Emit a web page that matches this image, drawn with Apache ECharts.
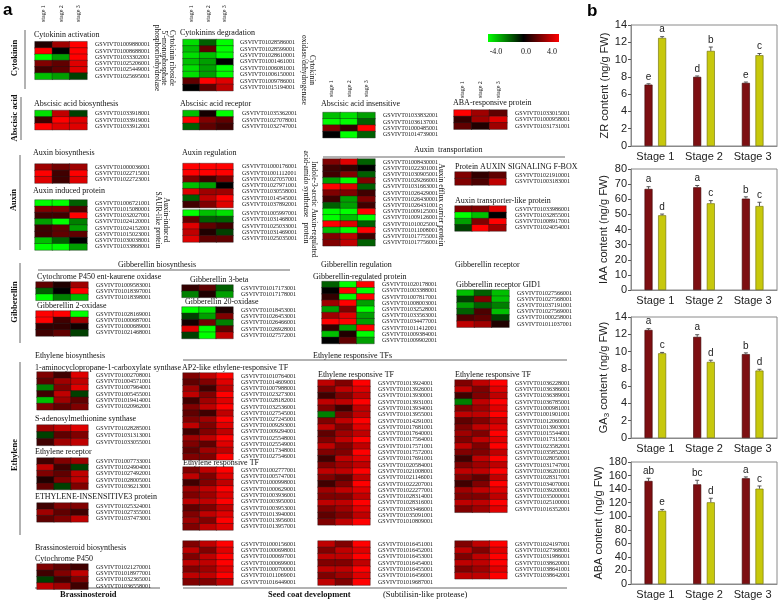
<!DOCTYPE html>
<html><head><meta charset="utf-8">
<script src="https://cdn.jsdelivr.net/npm/echarts@6/dist/echarts.min.js"></script>
<style>html,body{margin:0;padding:0;background:#fff}#c{width:778px;height:602px}</style>
</head><body><div id="c"></div>
<script>
// ---------- Panel a data ----------
const stages = ['stage 1', 'stage 2', 'stage 3'];

const ckActGenes = ['GSVIVT01009880001','GSVIVT01008688001','GSVIVT01033302001','GSVIVT01025206001','GSVIVT01025449001','GSVIVT01025695001'];
const ckActVals = [[0.5,2.5,4],[4,0,4],[-4,-2.5,4],[2,1.5,3.5],[1,1.5,3.5],[-3,-2.5,-1]];

const ckDegGenes = ['GSVIVT01028586001','GSVIVT01028599001','GSVIVT01028610001','GSVIVT01001461001','GSVIVT01006081001','GSVIVT01006150001','GSVIVT01009786001','GSVIVT01015194001'];
const ckDegVals = [[-3.5,-1.5,-4],[-3,1.5,-4],[-3.5,-3,-4],[-3,-2.5,0],[-3.5,-2.5,-4],[-3.5,-2.5,-4],[1.5,4,3.5],[0,1.5,3]];

const abaBioGenes = ['GSVIVT01033918001','GSVIVT01033919001','GSVIVT01033912001'];
const abaBioVals = [[-3.5,3,-1],[1,4,3.5],[4,3.5,3.5]];

const abaRecGenes = ['GSVIVT01035362001','GSVIVT01027078001','GSVIVT01032747001'];
const abaRecVals = [[-3,0.3,-4],[4,2,1.5],[-1.5,1.5,1]];

const abaInsGenes = ['GSVIVT01033832001','GSVIVT01036137001','GSVIVT01000485001','GSVIVT01014739001'];
const abaInsVals = [[-3,-3.5,-2.5],[-4,-4,-1.5],[2,0.8,4],[0,-4,-1.5]];

const abaRespGenes = ['GSVIVT01033015001','GSVIVT01000958001','GSVIVT01031731001'];
const abaRespVals = [[4,2.5,1.5],[0.8,2.5,3.5],[1.5,0.5,2.5]];

const auxBioGenes = ['GSVIVT01000036001','GSVIVT01022715001','GSVIVT01022723001'];
const auxBioVals = [[2.5,1.8,2.5],[4,1,4],[3.5,1,3.5]];

const auxIndGenes = ['GSVIVT01006721001','GSVIVT01015080001','GSVIVT01032027001','GSVIVT01024120001','GSVIVT01024152001','GSVIVT01015023001','GSVIVT01030038001','GSVIVT01033868001'];
const auxIndVals = [[-4,-4,-1.5],[2,2,1.2],[1,1,4],[-2.5,-4,-2],[1,1.5,-2.5],[1,1.5,1.5],[-3,-1.5,0],[-4,-4,-2.5]];

const auxRegAGenes = ['GSVIVT01000176001','GSVIVT01001112001','GSVIVT01027057001','GSVIVT01027971001','GSVIVT01030558001','GSVIVT01014545001','GSVIVT01037892001'];
const auxRegAVals = [[4,4,4],[4,4,4],[2,1,2],[-3,-2.5,0],[3.5,2.5,2.5],[-1.5,3,4],[1,2,3.5]];

const auxRegBGenes = ['GSVIVT01005997001','GSVIVT01031468001','GSVIVT01025033001','GSVIVT01031469001','GSVIVT01025035001'];
const auxRegBVals = [[-4,-3,-3.5],[1.5,-1.5,-1.5],[3.5,1.5,1],[3,0.5,-1],[3.5,1.5,1.5]];

const auxTrGenes = ['GSVIVT01008430001','GSVIVT01022301001','GSVIVT01030905001','GSVIVT01029266001','GSVIVT01031663001','GSVIVT01026429001','GSVIVT01026430001','GSVIVT01026431001','GSVIVT01009125001','GSVIVT01009126001','GSVIVT01010025001','GSVIVT01011008001','GSVIVT01017755001','GSVIVT01017756001'];
const auxTrVals = [[2,3.5,-1.5],[1,0.8,0],[1,2,-1.5],[-2.5,-4,2],[4,3.5,-1.5],[2,2,1],[1,-2.5,2],[-1.5,-2.5,1],[-4,-4,4],[-4,-3,-4],[4,3.5,-1.5],[-3,-4,4],[2,3,1],[2,3,-1.5]];

const auxFbGenes = ['GSVIVT01021910001','GSVIVT01003183001'];
const auxFbVals = [[2,0.8,1.5],[2,1.2,3]];

const auxTlGenes = ['GSVIVT01033986001','GSVIVT01032855001','GSVIVT01008917001','GSVIVT01024054001'];
const auxTlVals = [[2,2,3.5],[-4,-3,0],[-2.5,2,4],[-1,4,2.5]];

const gaP450Genes = ['GSVIVT01009583001','GSVIVT01018397001','GSVIVT01018398001'];
const gaP450Vals = [[1.5,0.5,2.5],[-1.5,0,4],[-4,-2,-3]];

const ga2oxGenes = ['GSVIVT01028169001','GSVIVT01000687001','GSVIVT01000689001','GSVIVT01021468001'];
const ga2oxVals = [[4,4,-4],[4,1,2.5],[0.8,0.8,0.3],[1,1.5,-1]];

const ga3bGenes = ['GSVIVT01017173001','GSVIVT01017178001'];
const ga3bVals = [[0.8,1.5,-1.5],[-2,0.5,-2.5]];

const ga20oxGenes = ['GSVIVT01018453001','GSVIVT01026453001','GSVIVT01026466001','GSVIVT01026928001','GSVIVT01027572001'];
const ga20oxVals = [[-4,-3.5,0.5],[-1,-2.5,2],[0.3,1.8,-2],[3.5,-4,1.5],[-1,-4,3]];

const gaRegGenes = ['GSVIVT01020178001','GSVIVT01003388001','GSVIVT01007817001','GSVIVT01008003001','GSVIVT01032528001','GSVIVT01033563001','GSVIVT01034477001','GSVIVT01011412001','GSVIVT01009384001','GSVIVT01009902001'];
const gaRegVals = [[-1.5,-4,4],[0,4,-4],[0.8,-4,4],[2.5,4,-2.5],[-2.5,2,-4],[2.5,3.5,-2.5],[4,4,-2.5],[0.8,-2.5,4],[-3,0.5,-4],[0,1.5,-2.5]];

const gaRecGenes = ['GSVIVT01027566001','GSVIVT01027568001','GSVIVT01037191001','GSVIVT01027569001','GSVIVT01000258001','GSVIVT01011037001'];
const gaRecVals = [[-3,-1.5,-3],[-1,2,-3],[-2.5,-1.5,-2],[-1.5,1.2,-3],[1.2,1.5,-1],[3,2.5,0.5]];

const accsGenes = ['GSVIVT01002708001','GSVIVT01004571001','GSVIVT01007964001','GSVIVT01005455001','GSVIVT01019414001','GSVIVT01020962001'];
const accsVals = [[2,1,3.5],[1.5,2.5,3],[-2,2,3.5],[1,3,-1],[-3,2.5,1.5],[2,1.5,2]];

const samsGenes = ['GSVIVT01028285001','GSVIVT01031313001','GSVIVT01033055001'];
const samsVals = [[2.5,3,3.5],[-1,1.5,2],[1,2.5,3]];

const etrGenes = ['GSVIVT01007733001','GSVIVT01024904001','GSVIVT01027492001','GSVIVT01028005001','GSVIVT01036213001'];
const etrVals = [[1,2,2.5],[3,1,-1],[2,1.5,3],[0.5,2,3],[1.5,-1,2]];

const ein3Genes = ['GSVIVT01025324001','GSVIVT01027355001','GSVIVT01037473001'];
const ein3Vals = [[1,2,2],[2.5,1.5,1],[1.5,2,3]];

const brGenes = ['GSVIVT01021270001','GSVIVT01018977001','GSVIVT01032365001','GSVIVT01036558001'];
const brVals = [[2,1.5,1],[1,2,3],[-1,1,2],[3,2.5,1]];

const ap2Genes = ['GSVIVT01010764001','GSVIVT01014609001','GSVIVT01007988001','GSVIVT01023273001','GSVIVT01028182001','GSVIVT01032536001','GSVIVT01027545001','GSVIVT01027245001','GSVIVT01009293001','GSVIVT01009294001','GSVIVT01025548001','GSVIVT01025549001','GSVIVT01017348001','GSVIVT01027546001'];
const ap2Vals = [[2,3,4],[1.5,2,3.5],[2.5,1,3],[3,2,4],[1,2.5,3.5],[2,3,4],[1.5,1,3],[2,2.5,4],[3,2,3.5],[1,2,3],[2.5,3,4],[2,1.5,3.5],[1.5,2.5,3],[2,2,4]];

const erfAGenes = ['GSVIVT01002777001','GSVIVT01005747001','GSVIVT01000998001','GSVIVT01000629001','GSVIVT01003936001','GSVIVT01003950001','GSVIVT01003953001','GSVIVT01013940001','GSVIVT01013956001','GSVIVT01013957001'];
const erfAVals = [[2,3,4],[3,2,3.5],[1,2,3],[2.5,3,4],[2,2.5,3.5],[3,3,4],[1.5,2,3],[2,3,3.5],[2.5,2,4],[2,3,3.5]];

const erfBGenes = ['GSVIVT01013924001','GSVIVT01013926001','GSVIVT01013930001','GSVIVT01013931001','GSVIVT01013934001','GSVIVT01013955001','GSVIVT01014291001','GSVIVT01017681001','GSVIVT01017640001','GSVIVT01017564001','GSVIVT01017571001','GSVIVT01017572001','GSVIVT01017691001','GSVIVT01020584001','GSVIVT01021008001','GSVIVT01021146001','GSVIVT01022207001','GSVIVT01022277001','GSVIVT01028314001','GSVIVT01028316001','GSVIVT01033466001','GSVIVT01035091001','GSVIVT01010809001'];
const erfBVals = [[3,2,4],[2,3,3.5],[1,2,3],[3,3,4],[2,1,3],[-2,2,3],[2,3,4],[3,2,3.5],[1.5,2.5,3],[2,3,4],[3,2,3],[2,2,4],[1,3,3.5],[2,2.5,3],[3,3,4],[2,1.5,3],[1,2,4],[2.5,3,3.5],[2,2,3],[3,3,4],[2,2.5,3.5],[1.5,2,3],[2,3,4]];

const erfCGenes = ['GSVIVT01036228001','GSVIVT01036386001','GSVIVT01036389001','GSVIVT01036785001','GSVIVT01000981001','GSVIVT01001901001','GSVIVT01012060001','GSVIVT01013903001','GSVIVT01015544001','GSVIVT01017315001','GSVIVT01023582001','GSVIVT01035852001','GSVIVT01028050001','GSVIVT01031747001','GSVIVT01036201001','GSVIVT01028317001','GSVIVT01034070001','GSVIVT01039200001','GSVIVT01035000001','GSVIVT01025100001','GSVIVT01016352001'];
const erfCVals = [[2,3,4],[3,2,3.5],[1,2,3],[-2,3,4],[2,2.5,3.5],[3,3,4],[1.5,2,3],[2,3,3.5],[2.5,2,4],[2,3,3.5],[3,2,4],[2,2,3],[1,3,4],[2,2.5,3],[3,3,4],[2,1.5,3],[1,2,4],[2.5,3,3.5],[2,2,3],[3,3,4],[2,2.5,3.5]];

const scAGenes = ['GSVIVT01000156001','GSVIVT01000698001','GSVIVT01000697001','GSVIVT01000699001','GSVIVT01000700001','GSVIVT01011069001','GSVIVT01016449001'];
const scAVals = [[2,3,4],[3,2,3.5],[2,3,4],[3,3,4],[2,2.5,3.5],[3,3,4],[2,2,3]];

const scBGenes = ['GSVIVT01016451001','GSVIVT01016452001','GSVIVT01016453001','GSVIVT01016454001','GSVIVT01016455001','GSVIVT01016456001','GSVIVT01019687001'];
const scBVals = [[3,2,4],[2,3,3.5],[3,3,4],[2,2,3],[3,3,4],[2,2.5,3.5],[3,2,4]];

const scCGenes = ['GSVIVT01024197001','GSVIVT01027368001','GSVIVT01031986001','GSVIVT01038620001','GSVIVT01038641001','GSVIVT01038642001'];
const scCVals = [[2,3,4],[3,2,3.5],[2,3,4],[3,3,4],[2,2.5,3.5],[3,3,4]];

// ---------- Panel b data ----------
const stageLabels = ['Stage 1', 'Stage 2', 'Stage 3'];
const zrA = [7.1, 8.0, 7.3],   zrB = [12.5, 11.0, 10.5];
const zrAErr = [0.1, 0.1, 0.1], zrBErr = [0.15, 0.45, 0.2];
const zrALet = ['e','d','e'],  zrBLet = ['a','b','c'];
const iaaA = [66.8, 67.9, 60.4], iaaB = [49.4, 57.3, 55.5];
const iaaAErr = [1.5, 1.2, 1.2], iaaBErr = [0.8, 1.8, 2.5];
const iaaALet = ['a','a','b'], iaaBLet = ['d','c','c'];
const gaA = [12.5, 11.7, 9.7], gaB = [9.8, 8.8, 7.8];
const gaAErr = [0.15, 0.25, 0.15], gaBErr = [0.1, 0.2, 0.15];
const gaALet = ['a','a','b'], gaBLet = ['c','d','d'];
const abaA = [152, 147, 156], abaB = [108, 120.5, 140.6];
const abaAErr = [4, 6, 2], abaBErr = [2, 6, 4];
const abaALet = ['ab','bc','a'], abaBLet = ['e','d','c'];

// ---------- layout ----------
const blocks = [
  {g: ckActGenes, v: ckActVals, x:35, y:41.7, w:52, rh:6.27, m:8},
  {g: ckDegGenes, v: ckDegVals, x:183, y:39.5, w:50, rh:6.4, m:7},
  {g: abaBioGenes, v: abaBioVals, x:35, y:110.5, w:52, rh:6.4, m:8},
  {g: abaRecGenes, v: abaRecVals, x:183, y:110.5, w:50, rh:6.4, m:9},
  {g: abaInsGenes, v: abaInsVals, x:323, y:112.5, w:52, rh:6.3, m:8},
  {g: abaRespGenes, v: abaRespVals, x:454, y:110, w:53, rh:6.4, m:8},
  {g: auxBioGenes, v: auxBioVals, x:35, y:164, w:52, rh:6.35, m:8},
  {g: auxIndGenes, v: auxIndVals, x:35, y:200, w:52, rh:6.25, m:8},
  {g: auxRegAGenes, v: auxRegAVals, x:183, y:163.5, w:50, rh:6.3, m:9},
  {g: auxRegBGenes, v: auxRegBVals, x:183, y:210, w:50, rh:6.4, m:9},
  {g: auxTrGenes, v: auxTrVals, x:323, y:159, w:52, rh:6.2, m:8},
  {g: auxFbGenes, v: auxFbVals, x:455, y:172, w:51, rh:6.5, m:9},
  {g: auxTlGenes, v: auxTlVals, x:455, y:206, w:51, rh:6.25, m:9},
  {g: gaP450Genes, v: gaP450Vals, x:36, y:282, w:52, rh:6.1, m:8},
  {g: ga2oxGenes, v: ga2oxVals, x:36, y:311, w:52, rh:6.25, m:8},
  {g: ga3bGenes, v: ga3bVals, x:182, y:285, w:51, rh:6.2, m:8},
  {g: ga20oxGenes, v: ga20oxVals, x:182, y:307, w:51, rh:6.3, m:8},
  {g: gaRegGenes, v: gaRegVals, x:322, y:281.5, w:52, rh:6.2, m:8},
  {g: gaRecGenes, v: gaRecVals, x:457, y:290, w:52, rh:6.2, m:8},
  {g: accsGenes, v: accsVals, x:37, y:372, w:51, rh:6.3, m:8},
  {g: samsGenes, v: samsVals, x:37, y:425, w:51, rh:6.8, m:8},
  {g: etrGenes, v: etrVals, x:37, y:458, w:51, rh:6.3, m:8},
  {g: ein3Genes, v: ein3Vals, x:37, y:503, w:51, rh:6.3, m:8},
  {g: brGenes, v: brVals, x:37, y:564, w:51, rh:6.3, m:8},
  {g: ap2Genes, v: ap2Vals, x:183, y:373, w:50, rh:6.2, m:8},
  {g: erfAGenes, v: erfAVals, x:183, y:467, w:50, rh:6.3, m:8},
  {g: erfBGenes, v: erfBVals, x:318, y:380, w:52, rh:6.3, m:8},
  {g: erfCGenes, v: erfCVals, x:455, y:380, w:52, rh:6.3, m:8},
  {g: scAGenes, v: scAVals, x:183, y:541, w:50, rh:6.3, m:8},
  {g: scBGenes, v: scBVals, x:318, y:541, w:52, rh:6.3, m:8},
  {g: scCGenes, v: scCVals, x:455, y:541, w:52, rh:6.3, m:8}
];

const SERIF = 'Liberation Serif';
const grids = [], xAxes = [], yAxes = [], series = [];
const heatIdx = [];
blocks.forEach((b, i) => {
  grids.push({left: b.x, top: b.y, width: b.w, height: b.g.length * b.rh});
  xAxes.push({type: 'category', data: stages, gridIndex: i, show: false});
  yAxes.push({type: 'category', data: b.g, gridIndex: i, inverse: true, position: 'right',
    axisLine: {show: false}, axisTick: {show: false}, splitLine: {show: false},
    axisLabel: {interval: 0, fontSize: 6, fontFamily: SERIF, color: '#111', margin: b.m}});
  const d = [];
  b.v.forEach((row, r) => row.forEach((val, c) => d.push([c, r, val])));
  heatIdx.push(series.length);
  series.push({type: 'heatmap', xAxisIndex: i, yAxisIndex: i, data: d,
    itemStyle: {borderColor: '#1a1a1a', borderWidth: 0.4}, emphasis: {disabled: true}});
});

// ---------- panel b ----------
const SANS = 'Liberation Sans';
const barPanels = [
  {a: zrA, b: zrB, ae: zrAErr, be: zrBErr, al: zrALet, bl: zrBLet, top: 25, h: 121, max: 14, itv: 2, gap: 15, name: 'ZR content (ng/g FW)'},
  {a: iaaA, b: iaaB, ae: iaaAErr, be: iaaBErr, al: iaaALet, bl: iaaBLet, top: 169, h: 121, max: 80, itv: 10, gap: 22, name: 'IAA content (ng/g FW)'},
  {a: gaA, b: gaB, ae: gaAErr, be: gaBErr, al: gaALet, bl: gaBLet, top: 317, h: 121, max: 14, itv: 2, gap: 15, name: 'GA{s|3} content (ng/g FW)'},
  {a: abaA, b: abaB, ae: abaAErr, be: abaBErr, al: abaALet, bl: abaBLet, top: 462, h: 122, max: 180, itv: 20, gap: 24, name: 'ABA content (ng/g FW)'}
];
const BW = 8, GAP = 0.7;
function errRender(off, letters) {
  return function (params, api) {
    const ci = api.value(0), v = api.value(1), e = api.value(2);
    const p0 = api.coord([ci, v]);
    const p1 = api.coord([ci, v + e]);
    const x = p0[0] + off;
    return {type: 'group', children: [
      {type: 'line', shape: {x1: x, y1: p0[1], x2: x, y2: p1[1]}, style: {stroke: '#555', lineWidth: 1}},
      {type: 'line', shape: {x1: x - 2, y1: p1[1], x2: x + 2, y2: p1[1]}, style: {stroke: '#555', lineWidth: 1}},
      {type: 'text', x: x, y: p1[1] - 2, style: {text: letters[params.dataIndex], fill: '#222', font: '10px "Liberation Sans"', align: 'center', verticalAlign: 'bottom', textAlign: 'center', textVerticalAlign: 'bottom'}}
    ]};
  };
}
barPanels.forEach((p, k) => {
  const gi = grids.length;
  grids.push({left: 631, top: p.top, width: 146, height: p.h, show: true, borderColor: '#8a8a8a', borderWidth: 1, backgroundColor: 'transparent'});
  xAxes.push({type: 'category', data: stageLabels, gridIndex: gi, axisTick: {show: false},
    axisLine: {lineStyle: {color: '#8a8a8a'}},
    axisLabel: {interval: 0, fontSize: 11, fontFamily: SANS, color: '#222', margin: 5}});
  yAxes.push({type: 'value', gridIndex: gi, min: 0, max: p.max, interval: p.itv,
    splitLine: {show: false},
    axisLine: {show: true, lineStyle: {color: '#8a8a8a'}},
    axisTick: {show: true, length: 3, lineStyle: {color: '#555'}},
    axisLabel: {fontSize: 11, fontFamily: SANS, color: '#222', margin: 4},
    name: p.name, nameLocation: 'middle', nameGap: p.gap, nameRotate: 90,
    nameTextStyle: {fontSize: 11, fontFamily: SANS, color: '#222', rich: {s: {fontSize: 8, fontFamily: SANS, color: '#222', verticalAlign: 'bottom', padding: [6, 0, 0, 0]}}}});
  const off = (BW + BW * GAP) / 2;
  series.push({type: 'bar', name: 'Group 1', xAxisIndex: gi, yAxisIndex: gi, data: p.a, barWidth: BW, barGap: (GAP * 100) + '%',
    itemStyle: {color: '#7d0f12', borderColor: '#3a0000', borderWidth: 0.6}});
  series.push({type: 'bar', name: 'Group 2', xAxisIndex: gi, yAxisIndex: gi, data: p.b, barWidth: BW, barGap: (GAP * 100) + '%',
    itemStyle: {color: '#c7c80c', borderColor: '#6a6a00', borderWidth: 0.6}});
  series.push({type: 'custom', xAxisIndex: gi, yAxisIndex: gi, renderItem: errRender(-off, p.al),
    data: p.a.map((v, i) => [i, v, p.ae[i]]), z: 5});
  series.push({type: 'custom', xAxisIndex: gi, yAxisIndex: gi, renderItem: errRender(off, p.bl),
    data: p.b.map((v, i) => [i, v, p.be[i]]), z: 5});
});

// ---------- graphic texts ----------
const G = [];
function txt(t, x, y, size, opt) {
  opt = opt || {};
  const font = (opt.bold ? 'bold ' : '') + size + 'px "' + (opt.family || SERIF) + '"';
  G.push({type: 'text', x: x, y: y, rotation: opt.rot || 0, silent: true,
    style: {text: t, font: font, fill: opt.color || '#111', align: opt.align || 'left', verticalAlign: opt.va || 'middle',
      textAlign: opt.align || 'left', textVerticalAlign: opt.va || 'middle', lineHeight: opt.lh || size + 1}});
}
function line(x1, y1, x2, y2, c) {
  G.push({type: 'line', silent: true, shape: {x1: x1, y1: y1, x2: x2, y2: y2}, style: {stroke: c || '#666', lineWidth: 1}});
}
txt('a', 3, 10, 17, {bold: true, family: SANS, color: '#000'});
txt('b', 587, 11, 17, {bold: true, family: SANS, color: '#000'});

// stage headers (rotated)
[[35, 52, 22], [183, 50, 22], [323, 52, 97], [454, 53, 98]].forEach(h => {
  stages.forEach((s, c) => txt(s, h[0] + h[1] / 6 * (2 * c + 1), h[2], 6, {rot: Math.PI / 2}));
});

// block titles
const titles = [
  ['Cytokinin activation', 34, 34.5], ['Cytokinins degradation', 180, 33],
  ['Abscisic acid biosynthesis', 34, 104], ['Abscisic acid receptor', 180, 104],
  ['Abscisic acid insensitive', 321, 104], ['ABA-responsive protein', 453, 103],
  ['Auxin biosynthesis', 33, 153], ['Auxin induced protein', 33, 191], ['Auxin regulation', 182, 153],
  ['Auxin  transportation', 414, 150], ['Protein AUXIN SIGNALING F-BOX', 455, 167],
  ['Auxin transporter-like protein', 455, 201],
  ['Gibberellin biosynthesis', 118, 265], ['Cytochrome P450 ent-kaurene oxidase', 37, 277],
  ['Gibberellin 2-oxidase', 37, 306], ['Gibberellin 3-beta', 190, 280], ['Gibberellin 20-oxidase', 185, 302],
  ['Gibberellin regulation', 321, 265], ['Gibberellin-regulated protein', 313, 277],
  ['Gibberellin receptor', 455, 265], ['Gibberellin receptor GID1', 456, 285],
  ['Ethylene biosynthesis', 35, 356], ['Ethylene responsive TFs', 313, 356],
  ['1-aminocyclopropane-1-carboxylate synthase', 35, 368], ['AP2-like ethylene-responsive TF', 182, 368],
  ['S-adenosylmethionine synthase', 35, 419], ['Ethylene receptor', 35, 452],
  ['ETHYLENE-INSENSITIVE3 protein', 35, 497], ['Ethylene responsive TF', 183, 463],
  ['Ethylene responsive TF', 318, 375], ['Ethylene responsive TF', 455, 375],
  ['Brassinosteroid biosynthesis', 35, 548], ['Cytochrome P450', 35, 559]
];
titles.forEach(t => txt(t[0], t[1], t[2], 8));

// rotated side labels
[
  ['Cytokinin riboside\n5\'-monophosphate\nphosphoribohydrolase', 164, 58],
  ['Cytokinin\noxidase/dehydrogenase', 308, 70],
  ['Auxin-induced\nSAUR-like protein', 162, 220],
  ['Indole-3-acetic\nacid-amido synthetase', 310, 184],
  ['Auxin-regulated\nprotein', 310, 233],
  ['Auxin efflux carrier protein', 441, 205]
].forEach(t => txt(t[0], t[1], t[2], 7.5, {rot: -Math.PI / 2, align: 'center', lh: 7.5}));

// category labels
[['Cytokinin', 15, 58], ['Abscisic acid', 15, 118], ['Auxin', 14, 200], ['Gibberellin', 15, 302], ['Ethylene', 15, 455]]
  .forEach(t => txt(t[0], t[1], t[2], 8.5, {rot: Math.PI / 2, align: 'center', bold: true}));
line(25, 30, 25, 89); line(21, 97, 21, 140); line(20, 155, 20, 250); line(20, 263, 20, 343); line(20, 362, 20, 535);

// section lines
line(323, 157, 565, 157);
line(38, 270, 290, 270);
line(183, 360, 567, 360);
line(35, 588, 160, 588);
line(183, 588, 567, 588);

txt('Brassinosteroid', 60, 595, 8.5, {bold: true});
txt('Seed coat development', 268, 595, 8.5, {bold: true});
txt('(Subtilisin-like protease)', 383, 595, 8.5);

// colour bar
G.push({type: 'rect', silent: true, shape: {x: 488, y: 34, width: 71, height: 8},
  style: {fill: {type: 'linear', x: 0, y: 0, x2: 1, y2: 0, colorStops: [
    {offset: 0, color: '#00ff00'}, {offset: 0.5, color: '#000000'}, {offset: 1, color: '#ff0000'}]}}});
txt('-4.0', 496, 52, 8, {align: 'center'});
txt('0.0', 526, 52, 8, {align: 'center'});
txt('4.0', 552, 52, 8, {align: 'center'});

const chart = echarts.init(document.getElementById('c'), null, {renderer: 'canvas'});
chart.setOption({
  animation: false,
  backgroundColor: '#ffffff',
  grid: grids, xAxis: xAxes, yAxis: yAxes, series: series,
  visualMap: {type: 'continuous', show: false, min: -4, max: 4, seriesIndex: heatIdx, dimension: 2,
    inRange: {color: ['#00ff00', '#000000', '#ff0000']}},
  graphic: {elements: G}
});
</script></body></html>
